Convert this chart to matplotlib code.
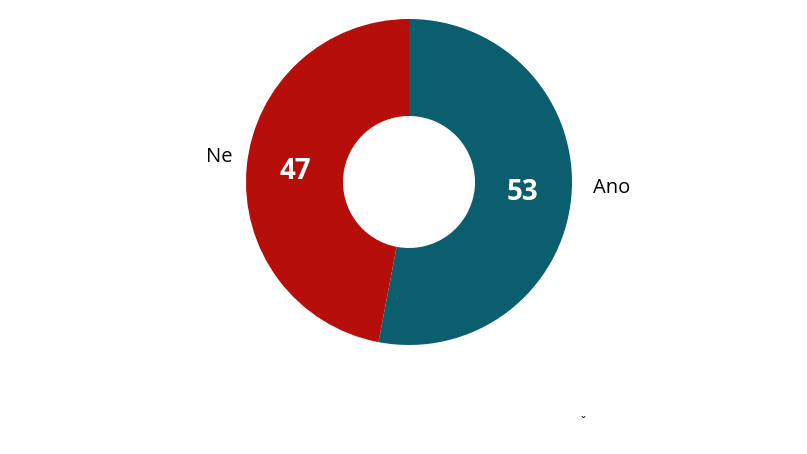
import matplotlib
matplotlib.use("Agg")
import matplotlib.pyplot as plt

categories = ["Ano", "Ne"]
values = [53, 47]
colors = ["#0B5E6D", "#B50E0B"]

plt.rcParams['font.family'] = ['Open Sans', 'DejaVu Sans']

W, H = 807, 454
fig = plt.figure(figsize=(W / 100, H / 100), dpi=100)
ax = fig.add_axes([0, 0, 1, 1])

cx, cy, R = 409, H - 182, 163
wedges, texts, autotexts = ax.pie(
    values, labels=categories, colors=colors, startangle=90, counterclock=False,
    center=(cx, cy), radius=R, frame=True,
    wedgeprops=dict(width=R - 66, edgecolor='none'),
    autopct=lambda p: f"{p:.0f}", pctdistance=(R + 66) / 2 / R,
    labeldistance=1.2,
    textprops=dict(fontsize=14.5, color='black'))
ax.set_xlim(0, W)
ax.set_ylim(0, H)
ax.set_aspect('equal')
ax.axis('off')

for t in autotexts:
    t.set_color('white')
    t.set_fontsize(20)
    t.set_fontweight('bold')

# outer label placement
texts[0].set_position((612, H - 188))
texts[0].set_ha('center')
texts[1].set_position((219, H - 157))
texts[1].set_ha('center')

ax.text(583, H - 423, "ˇ", fontsize=9, ha='center', va='center', color='black')

fig.savefig("out.png", dpi=100)
